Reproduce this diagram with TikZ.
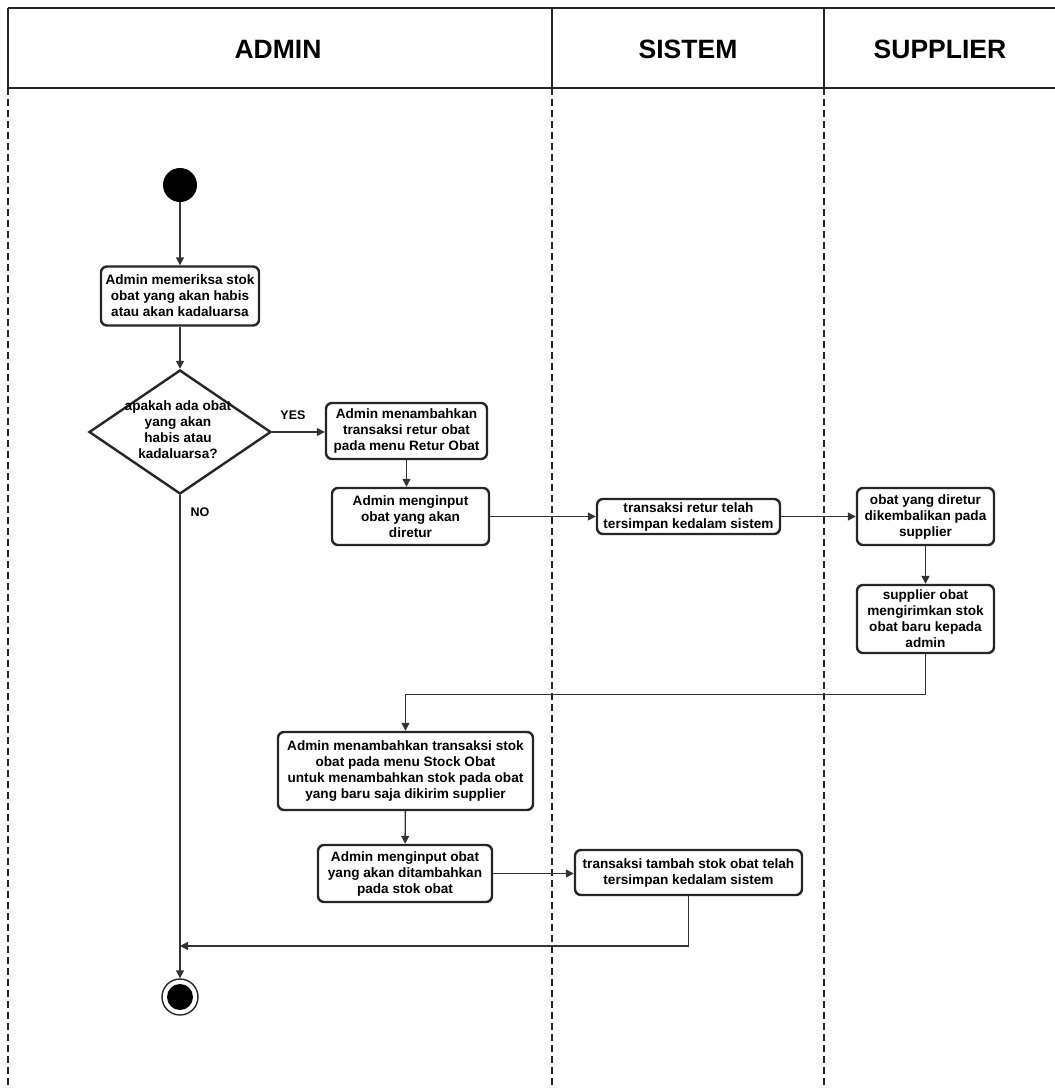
\documentclass[tikz,border=0pt]{standalone}
\usepackage{fontspec}
\setmainfont{Liberation Sans}
\usetikzlibrary{shapes.geometric,arrows.meta}

\begin{document}
\begin{tikzpicture}[x=1pt,y=-1pt,
  lane/.style={line width=2.8pt,draw=black!85},
  lanedash/.style={line width=2.8pt,draw=black!85,dash pattern=on 7pt off 4pt},
  head/.style={font=\bfseries\fontsize{26.5}{30}\selectfont},
  act/.style={draw=black!85,line width=2.4pt,rounded corners=6pt,align=center,
    inner sep=0pt,font=\bfseries\fontsize{13.6}{16}\selectfont},
  txt/.style={align=center,inner sep=0pt,font=\bfseries\fontsize{13.6}{16}\selectfont},
  decision/.style={draw=black!85,line width=2.4pt,diamond,inner sep=0pt},
  flow/.style={draw=black!80,line width=1.4pt,-{Triangle[length=8pt,width=8pt]}},
  lbl/.style={font=\bfseries\fontsize{12.5}{15}\selectfont,inner sep=0pt}]
\useasboundingbox (0,0) rectangle (1055,1088);
\fill[white] (0,0) rectangle (1055,1088);

% swimlane header
\draw[lane] (8,8) -- (1055,8);
\draw[lane] (8,88) -- (1055,88);
\draw[lane] (8,8) -- (8,88);
\draw[lane] (552,8) -- (552,88);
\draw[lane] (824,8) -- (824,88);
\draw[lanedash] (8,88) -- (8,1088);
\draw[lanedash] (552,88) -- (552,1088);
\draw[lanedash] (824,88) -- (824,1088);
\node[head] (hadmin) at (278,49) {ADMIN};
\node[head] (hsistem) at (688,49) {SISTEM};
\node[head] (hsupplier) at (940,49) {SUPPLIER};

% initial and final states
\node[circle,fill=black,minimum size=34pt,inner sep=0pt] (start) at (180,185) {};
\node[circle,draw=black!85,line width=1.4pt,minimum size=36pt,inner sep=0pt] (end) at (180,997) {};
\node[circle,fill=black,minimum size=26pt,inner sep=0pt] (endin) at (180,997) {};

% activities
\node[act,minimum width=158pt,minimum height=59pt] (b1) at (180,296)
  {Admin memeriksa stok\\obat yang akan habis\\atau akan kadaluarsa};
\node[decision,minimum width=182pt,minimum height=124pt] (d) at (180,432) {};
\node[txt] (dtxt) at (178,430) {apakah ada obat\\yang akan\\habis atau\\kadaluarsa?};
\node[act,minimum width=161pt,minimum height=56pt] (b2) at (406.5,431)
  {Admin menambahkan\\transaksi retur obat\\pada menu Retur Obat};
\node[act,minimum width=157pt,minimum height=57pt] (b3) at (410.5,516.5)
  {Admin menginput\\obat yang akan\\diretur};
\node[act,minimum width=183pt,minimum height=35pt] (b4) at (688.5,516.5)
  {transaksi retur telah\\tersimpan kedalam sistem};
\node[act,minimum width=137pt,minimum height=57pt] (b5) at (925.5,516.5)
  {obat yang diretur\\dikembalikan pada\\supplier};
\node[act,minimum width=137pt,minimum height=68pt] (b6) at (925.5,619)
  {supplier obat\\mengirimkan stok\\obat baru kepada\\admin};
\node[act,minimum width=255pt,minimum height=78pt] (b7) at (405.5,771)
  {Admin menambahkan transaksi stok\\obat pada menu Stock Obat\\untuk menambahkan stok pada obat\\yang baru saja dikirim supplier};
\node[act,minimum width=174pt,minimum height=57pt] (b8) at (405,873.5)
  {Admin menginput obat\\yang akan ditambahkan\\pada stok obat};
\node[act,minimum width=227pt,minimum height=45pt] (b9) at (688.5,872.5)
  {transaksi tambah stok obat telah\\tersimpan kedalam sistem};

% connectors
\coordinate (join) at (180,946);
\draw[flow] (start) -- (b1);
\draw[flow] (b1) -- (d);
\draw[flow] (d.east) -- (b2.west |- d.east);
\node[lbl] (yes) at (293,415) {YES};
\draw[flow] (b2.south) -- (b2.south |- b3.north);
\draw[flow] (b3.east) -- (b4.west);
\draw[flow] (b4.east) -- (b5.west);
\draw[flow] (b5) -- (b6);
\draw[flow] (b6.south) -- ++(0,40) -| (b7.north);
\draw[flow] (b7) -- (b8);
\draw[flow] (b8.east) -- (b9.west |- b8.east);
\draw[flow] (b9.south) |- (join);
\draw[flow] (d.south) -- (end.north);
\node[lbl] (no) at (200,512) {NO};
\end{tikzpicture}
\end{document}
